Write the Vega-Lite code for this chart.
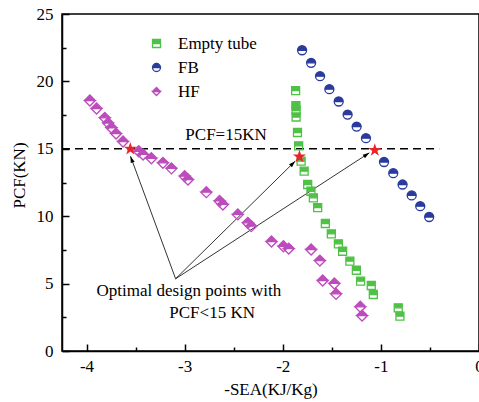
{
  "$schema": "https://vega.github.io/schema/vega-lite/v6.json",
  "width": 417,
  "height": 337,
  "autosize": "none",
  "padding": {"left": 62, "top": 14, "right": 0, "bottom": 51},
  "background": "white",
  "datasets": {
    "pts": [
      {"series": "HF", "x": -3.966, "y": 18.58},
      {"series": "HF", "x": -3.898, "y": 17.99},
      {"series": "HF", "x": -3.814, "y": 17.30},
      {"series": "HF", "x": -3.780, "y": 16.91},
      {"series": "HF", "x": -3.746, "y": 16.56},
      {"series": "HF", "x": -3.699, "y": 16.13},
      {"series": "HF", "x": -3.628, "y": 15.54},
      {"series": "HF", "x": -3.468, "y": 14.82},
      {"series": "HF", "x": -3.424, "y": 14.58},
      {"series": "HF", "x": -3.339, "y": 14.30},
      {"series": "HF", "x": -3.221, "y": 13.96},
      {"series": "HF", "x": -3.135, "y": 13.55},
      {"series": "HF", "x": -3.000, "y": 12.97},
      {"series": "HF", "x": -2.966, "y": 12.72},
      {"series": "HF", "x": -2.779, "y": 11.78},
      {"series": "HF", "x": -2.644, "y": 11.13},
      {"series": "HF", "x": -2.610, "y": 10.87},
      {"series": "HF", "x": -2.458, "y": 10.13},
      {"series": "HF", "x": -2.356, "y": 9.51},
      {"series": "HF", "x": -2.321, "y": 9.26},
      {"series": "HF", "x": -2.115, "y": 8.12},
      {"series": "HF", "x": -1.993, "y": 7.77},
      {"series": "HF", "x": -1.939, "y": 7.60},
      {"series": "HF", "x": -1.711, "y": 7.53},
      {"series": "HF", "x": -1.622, "y": 6.71},
      {"series": "HF", "x": -1.593, "y": 5.23},
      {"series": "HF", "x": -1.474, "y": 5.01},
      {"series": "HF", "x": -1.457, "y": 4.24},
      {"series": "HF", "x": -1.210, "y": 3.28},
      {"series": "HF", "x": -1.192, "y": 2.63},
      {"series": "Empty tube", "x": -1.869, "y": 19.32},
      {"series": "Empty tube", "x": -1.866, "y": 18.21},
      {"series": "Empty tube", "x": -1.864, "y": 17.84},
      {"series": "Empty tube", "x": -1.864, "y": 17.36},
      {"series": "Empty tube", "x": -1.850, "y": 16.21},
      {"series": "Empty tube", "x": -1.838, "y": 15.22},
      {"series": "Empty tube", "x": -1.813, "y": 14.08},
      {"series": "Empty tube", "x": -1.782, "y": 13.34},
      {"series": "Empty tube", "x": -1.746, "y": 12.35},
      {"series": "Empty tube", "x": -1.713, "y": 11.85},
      {"series": "Empty tube", "x": -1.688, "y": 11.36},
      {"series": "Empty tube", "x": -1.644, "y": 10.64},
      {"series": "Empty tube", "x": -1.566, "y": 9.46},
      {"series": "Empty tube", "x": -1.505, "y": 8.69},
      {"series": "Empty tube", "x": -1.433, "y": 7.95},
      {"series": "Empty tube", "x": -1.390, "y": 7.40},
      {"series": "Empty tube", "x": -1.316, "y": 6.66},
      {"series": "Empty tube", "x": -1.250, "y": 5.99},
      {"series": "Empty tube", "x": -1.207, "y": 5.18},
      {"series": "Empty tube", "x": -1.098, "y": 4.86},
      {"series": "Empty tube", "x": -1.077, "y": 4.19},
      {"series": "Empty tube", "x": -0.823, "y": 3.20},
      {"series": "Empty tube", "x": -0.806, "y": 2.58},
      {"series": "FB", "x": -1.803, "y": 22.31},
      {"series": "FB", "x": -1.711, "y": 21.38},
      {"series": "FB", "x": -1.620, "y": 20.39},
      {"series": "FB", "x": -1.525, "y": 19.42},
      {"series": "FB", "x": -1.430, "y": 18.51},
      {"series": "FB", "x": -1.339, "y": 17.54},
      {"series": "FB", "x": -1.247, "y": 16.65},
      {"series": "FB", "x": -1.152, "y": 15.79},
      {"series": "FB", "x": -0.968, "y": 14.02},
      {"series": "FB", "x": -0.874, "y": 13.19},
      {"series": "FB", "x": -0.779, "y": 12.35},
      {"series": "FB", "x": -0.686, "y": 11.54},
      {"series": "FB", "x": -0.599, "y": 10.74},
      {"series": "FB", "x": -0.508, "y": 9.94}
    ],
    "stars": [
      {"series": "HF", "x": -3.554, "y": 15.0},
      {"series": "Empty tube", "x": -1.830, "y": 14.41},
      {"series": "FB", "x": -1.062, "y": 14.90}
    ],
    "ref": [{"x": -4.25, "x2": -0.406, "y": 15}],
    "arrows": [
      {"target": "HF", "x0": -3.092, "y0": 5.36, "x1": -3.552, "y1": 14.45},
      {"target": "Empty tube", "x0": -3.092, "y0": 5.36, "x1": -1.874, "y1": 14.08},
      {"target": "FB", "x0": -3.092, "y0": 5.36, "x1": -1.118, "y1": 14.70}
    ],
    "notes": [
      {"label": "PCF=15KN", "x": -2.578, "y": 15.99},
      {"label": "Optimal design points with", "x": -2.957, "y": 4.44},
      {"label": "PCF<15 KN", "x": -2.720, "y": 2.83}
    ]
  },
  "layer": [
    {
      "data": {"name": "ref"},
      "mark": {"type": "rule", "color": "black", "strokeWidth": 1.5, "strokeDash": [8, 5]},
      "encoding": {
        "x": {
          "field": "x", "type": "quantitative",
          "scale": {"domain": [-4.25, 0], "nice": false, "zero": false},
          "axis": {
            "orient": "bottom",
            "values": [-4, -3, -2, -1, 0],
            "labelExpr": "datum.value < 0 ? '-' + toString(-datum.value) : toString(datum.value)",
            "tickSize": -7,
            "labelPadding": 14,
            "labelFlush": false,
            "labelBound": false,
            "labelOverlap": false,
            "title": "-SEA(KJ/Kg)",
            "titlePadding": 7
          }
        },
        "x2": {"field": "x2"},
        "y": {
          "field": "y", "type": "quantitative",
          "scale": {"domain": [0, 25], "nice": false, "zero": false},
          "axis": {
            "orient": "left",
            "values": [0, 5, 10, 15, 20, 25],
            "tickSize": -7,
            "labelPadding": 16,
            "labelFlush": false,
            "labelBound": false,
            "labelOverlap": false,
            "title": "PCF(KN)",
            "titleX": -34,
            "titleY": 161
          }
        }
      }
    },
    {
      "data": {"name": "arrows"},
      "mark": {"type": "rule", "color": "black", "strokeWidth": 0.8},
      "encoding": {
        "x": {
          "field": "x0", "type": "quantitative",
          "axis": {
            "orient": "bottom",
            "values": [-3.5, -2.5, -1.5, -0.5],
            "tickSize": -4,
            "labels": false,
            "domain": false,
            "title": null
          }
        },
        "y": {
          "field": "y0", "type": "quantitative",
          "axis": {
            "orient": "left",
            "values": [2.5, 7.5, 12.5, 17.5, 22.5],
            "tickSize": -4,
            "labels": false,
            "domain": false,
            "title": null
          }
        },
        "x2": {"field": "x1"},
        "y2": {"field": "y1"}
      }
    },
    {
      "data": {"name": "pts"},
      "transform": [{"filter": "datum.series === 'Empty tube'"}],
      "mark": {"type": "point", "filled": true, "strokeWidth": 1.3, "opacity": 1, "size": 64},
      "encoding": {
        "x": {"field": "x", "type": "quantitative", "axis": null},
        "y": {"field": "y", "type": "quantitative", "axis": null},
        "fill": {
          "field": "series", "type": "nominal",
          "scale": {"domain": ["Empty tube", "FB", "HF"], "range": ["#4fc146", "#2a3b9d", "#bc4cbc"]},
          "legend": {
            "orient": "none", "legendX": 86, "legendY": 21, "title": null, "padding": 0,
            "labelFont": "Liberation Serif", "labelFontSize": 17, "labelColor": "black",
            "symbolSize": 64, "symbolStrokeWidth": 1.3, "rowPadding": 6, "labelOffset": 13
          }
        },
        "stroke": {
          "field": "series", "type": "nominal",
          "scale": {"domain": ["Empty tube", "FB", "HF"], "range": ["#4fc146", "#2a3b9d", "#bc4cbc"]}
        },
        "shape": {
          "field": "series", "type": "nominal",
          "scale": {
            "domain": ["Empty tube", "FB", "HF"],
            "range": [
              "M-1,-1L1,-1L1,1L-1,1ZM-1,0L-1,1L1,1L1,0Z",
              "M-1,0C-1,-0.5523,-0.5523,-1,0,-1C0.5523,-1,1,-0.5523,1,0C1,0.5523,0.5523,1,0,1C-0.5523,1,-1,0.5523,-1,0ZM-1,0C-1,0.5523,-0.5523,1,0,1C0.5523,1,1,0.5523,1,0Z",
              "M-1,0L0,-1L1,0L0,1ZM-1,0L0,1L1,0Z"
            ]
          }
        }
      }
    },
    {
      "data": {"name": "pts"},
      "transform": [{"filter": "datum.series === 'FB'"}],
      "mark": {"type": "point", "filled": true, "strokeWidth": 1.3, "opacity": 1, "size": 81},
      "encoding": {
        "x": {"field": "x", "type": "quantitative", "axis": null},
        "y": {"field": "y", "type": "quantitative", "axis": null},
        "fill": {"field": "series", "type": "nominal"},
        "stroke": {"field": "series", "type": "nominal"},
        "shape": {"field": "series", "type": "nominal"}
      }
    },
    {
      "data": {"name": "pts"},
      "transform": [{"filter": "datum.series === 'HF'"}],
      "mark": {"type": "point", "filled": true, "strokeWidth": 1.3, "opacity": 1, "size": 121},
      "encoding": {
        "x": {"field": "x", "type": "quantitative", "axis": null},
        "y": {"field": "y", "type": "quantitative", "axis": null},
        "fill": {"field": "series", "type": "nominal"},
        "stroke": {"field": "series", "type": "nominal"},
        "shape": {"field": "series", "type": "nominal"}
      }
    },
    {
      "data": {"name": "arrows"},
      "transform": [{"filter": "datum.target === 'HF'"}],
      "mark": {"type": "point", "shape": "M0,0L-0.32,1L0.32,1Z", "filled": true, "color": "black", "size": 170, "angle": 340, "opacity": 1},
      "encoding": {
        "x": {"field": "x1", "type": "quantitative", "axis": null},
        "y": {"field": "y1", "type": "quantitative", "axis": null}
      }
    },
    {
      "data": {"name": "arrows"},
      "transform": [{"filter": "datum.target === 'Empty tube'"}],
      "mark": {"type": "point", "shape": "M0,0L-0.32,1L0.32,1Z", "filled": true, "color": "black", "size": 170, "angle": 45.5, "opacity": 1},
      "encoding": {
        "x": {"field": "x1", "type": "quantitative", "axis": null},
        "y": {"field": "y1", "type": "quantitative", "axis": null}
      }
    },
    {
      "data": {"name": "arrows"},
      "transform": [{"filter": "datum.target === 'FB'"}],
      "mark": {"type": "point", "shape": "M0,0L-0.32,1L0.32,1Z", "filled": true, "color": "black", "size": 170, "angle": 57, "opacity": 1},
      "encoding": {
        "x": {"field": "x1", "type": "quantitative", "axis": null},
        "y": {"field": "y1", "type": "quantitative", "axis": null}
      }
    },
    {
      "data": {"name": "stars"},
      "mark": {"type": "point", "shape": "M0,-1L0.2245,-0.309L0.951,-0.309L0.363,0.118L0.588,0.809L0,0.382L-0.588,0.809L-0.363,0.118L-0.951,-0.309L-0.2245,-0.309Z", "filled": true, "color": "#e8232b", "size": 190, "opacity": 1},
      "encoding": {
        "x": {"field": "x", "type": "quantitative", "axis": null},
        "y": {"field": "y", "type": "quantitative", "axis": null}
      }
    },
    {
      "data": {"name": "notes"},
      "mark": {"type": "text", "font": "Liberation Serif", "fontSize": 17, "color": "black", "align": "center", "baseline": "middle"},
      "encoding": {
        "x": {"field": "x", "type": "quantitative", "axis": null},
        "y": {"field": "y", "type": "quantitative", "axis": null},
        "text": {"field": "label"}
      }
    }
  ],
  "resolve": {"axis": {"x": "independent", "y": "independent"}},
  "config": {
    "view": {"stroke": "black", "strokeWidth": 1.5},
    "axis": {
      "grid": false,
      "domainColor": "black",
      "domainWidth": 1.5,
      "tickColor": "black",
      "tickWidth": 1.5,
      "labelFont": "Liberation Serif",
      "labelFontSize": 17,
      "labelColor": "black",
      "titleFont": "Liberation Serif",
      "titleFontSize": 17,
      "titleFontWeight": "normal",
      "titleColor": "black"
    }
  }
}
